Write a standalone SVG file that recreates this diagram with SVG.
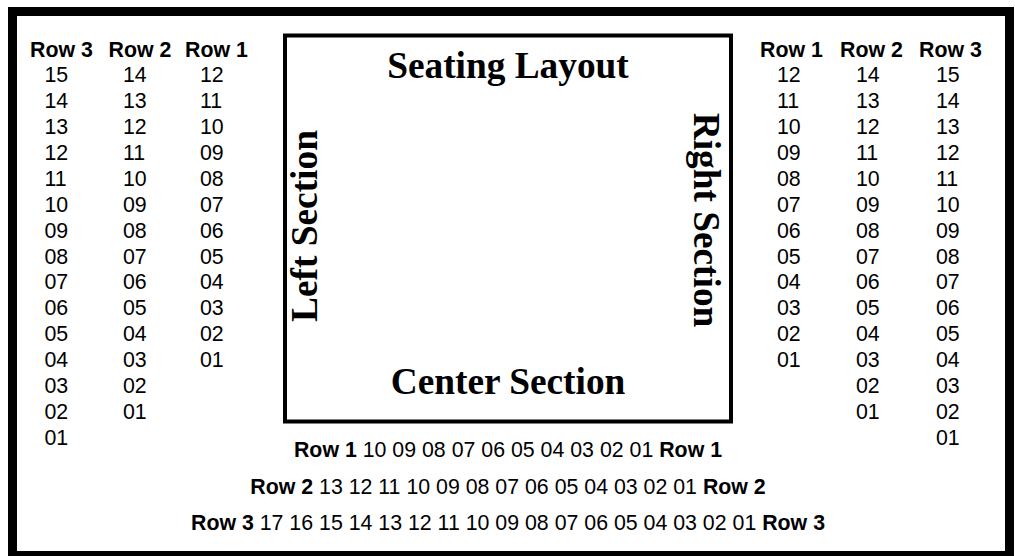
<svg xmlns="http://www.w3.org/2000/svg" width="1015" height="556" viewBox="0 0 1015 556">
<style>
.h{font-family:"Liberation Sans",Arial,sans-serif;font-size:21.33px;font-weight:bold;fill:#000}
.n{font-family:"Liberation Sans",Arial,sans-serif;font-size:21.33px;fill:#000}
.t{font-family:"Liberation Serif","Times New Roman",serif;font-size:37.33px;font-weight:bold;fill:#000}
.b{font-family:"Liberation Sans",Arial,sans-serif;font-size:21.33px;fill:#000}
.b tspan.k{font-weight:bold}
</style>
<rect width="1015" height="556" fill="#fff"/>
<g id="border"><rect x="12.5" y="11.5" width="997" height="544" fill="none" stroke="#000" stroke-width="9"/></g>
<g id="layout-box">
<rect x="285" y="35.5" width="446" height="386" fill="none" stroke="#000" stroke-width="4"/>
<text class="t" x="508" y="78.3" text-anchor="middle">Seating Layout</text>
<text class="t" x="508" y="393.5" text-anchor="middle">Center Section</text>
<text class="t" transform="translate(317,226) rotate(-90)" text-anchor="middle">Left Section</text>
<text class="t" transform="translate(693.5,220) rotate(90)" text-anchor="middle">Right Section</text>
</g>
<g id="left-section">
<text class="h" x="30" y="56.5">Row 3</text>
<text class="h" x="108.5" y="56.5">Row 2</text>
<text class="h" x="185" y="56.5">Row 1</text>
<text class="n" y="82"><tspan x="44.5">15</tspan><tspan x="44.5" dy="25.93">14</tspan><tspan x="44.5" dy="25.93">13</tspan><tspan x="44.5" dy="25.93">12</tspan><tspan x="44.5" dy="25.93">11</tspan><tspan x="44.5" dy="25.93">10</tspan><tspan x="44.5" dy="25.93">09</tspan><tspan x="44.5" dy="25.93">08</tspan><tspan x="44.5" dy="25.93">07</tspan><tspan x="44.5" dy="25.93">06</tspan><tspan x="44.5" dy="25.93">05</tspan><tspan x="44.5" dy="25.93">04</tspan><tspan x="44.5" dy="25.93">03</tspan><tspan x="44.5" dy="25.93">02</tspan><tspan x="44.5" dy="25.93">01</tspan></text>
<text class="n" y="82"><tspan x="123">14</tspan><tspan x="123" dy="25.93">13</tspan><tspan x="123" dy="25.93">12</tspan><tspan x="123" dy="25.93">11</tspan><tspan x="123" dy="25.93">10</tspan><tspan x="123" dy="25.93">09</tspan><tspan x="123" dy="25.93">08</tspan><tspan x="123" dy="25.93">07</tspan><tspan x="123" dy="25.93">06</tspan><tspan x="123" dy="25.93">05</tspan><tspan x="123" dy="25.93">04</tspan><tspan x="123" dy="25.93">03</tspan><tspan x="123" dy="25.93">02</tspan><tspan x="123" dy="25.93">01</tspan></text>
<text class="n" y="82"><tspan x="200">12</tspan><tspan x="200" dy="25.93">11</tspan><tspan x="200" dy="25.93">10</tspan><tspan x="200" dy="25.93">09</tspan><tspan x="200" dy="25.93">08</tspan><tspan x="200" dy="25.93">07</tspan><tspan x="200" dy="25.93">06</tspan><tspan x="200" dy="25.93">05</tspan><tspan x="200" dy="25.93">04</tspan><tspan x="200" dy="25.93">03</tspan><tspan x="200" dy="25.93">02</tspan><tspan x="200" dy="25.93">01</tspan></text>
</g>
<g id="right-section">
<text class="h" x="760" y="56.5">Row 1</text>
<text class="h" x="840" y="56.5">Row 2</text>
<text class="h" x="919" y="56.5">Row 3</text>
<text class="n" y="82"><tspan x="777">12</tspan><tspan x="777" dy="25.93">11</tspan><tspan x="777" dy="25.93">10</tspan><tspan x="777" dy="25.93">09</tspan><tspan x="777" dy="25.93">08</tspan><tspan x="777" dy="25.93">07</tspan><tspan x="777" dy="25.93">06</tspan><tspan x="777" dy="25.93">05</tspan><tspan x="777" dy="25.93">04</tspan><tspan x="777" dy="25.93">03</tspan><tspan x="777" dy="25.93">02</tspan><tspan x="777" dy="25.93">01</tspan></text>
<text class="n" y="82"><tspan x="856">14</tspan><tspan x="856" dy="25.93">13</tspan><tspan x="856" dy="25.93">12</tspan><tspan x="856" dy="25.93">11</tspan><tspan x="856" dy="25.93">10</tspan><tspan x="856" dy="25.93">09</tspan><tspan x="856" dy="25.93">08</tspan><tspan x="856" dy="25.93">07</tspan><tspan x="856" dy="25.93">06</tspan><tspan x="856" dy="25.93">05</tspan><tspan x="856" dy="25.93">04</tspan><tspan x="856" dy="25.93">03</tspan><tspan x="856" dy="25.93">02</tspan><tspan x="856" dy="25.93">01</tspan></text>
<text class="n" y="82"><tspan x="936">15</tspan><tspan x="936" dy="25.93">14</tspan><tspan x="936" dy="25.93">13</tspan><tspan x="936" dy="25.93">12</tspan><tspan x="936" dy="25.93">11</tspan><tspan x="936" dy="25.93">10</tspan><tspan x="936" dy="25.93">09</tspan><tspan x="936" dy="25.93">08</tspan><tspan x="936" dy="25.93">07</tspan><tspan x="936" dy="25.93">06</tspan><tspan x="936" dy="25.93">05</tspan><tspan x="936" dy="25.93">04</tspan><tspan x="936" dy="25.93">03</tspan><tspan x="936" dy="25.93">02</tspan><tspan x="936" dy="25.93">01</tspan></text>
</g>
<g id="center-section">
<text class="b" x="508" y="457" text-anchor="middle"><tspan class="k">Row 1</tspan> 10 09 08 07 06 05 04 03 02 01 <tspan class="k">Row 1</tspan></text>
<text class="b" x="508" y="494" text-anchor="middle"><tspan class="k">Row 2</tspan> 13 12 11 10 09 08 07 06 05 04 03 02 01 <tspan class="k">Row 2</tspan></text>
<text class="b" x="508" y="530" text-anchor="middle"><tspan class="k">Row 3</tspan> 17 16 15 14 13 12 11 10 09 08 07 06 05 04 03 02 01 <tspan class="k">Row 3</tspan></text>
</g>
<g id="connectors"/>
</svg>
